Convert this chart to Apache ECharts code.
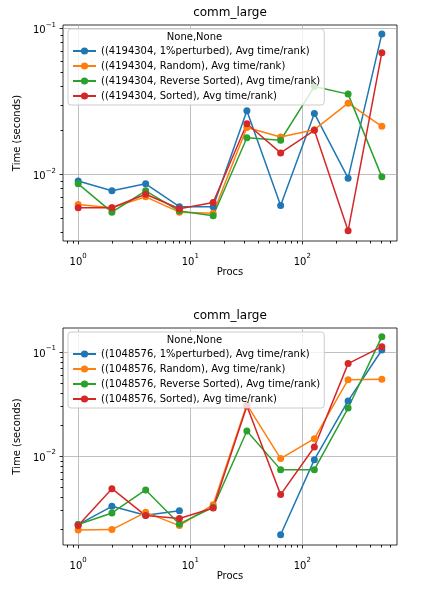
<!DOCTYPE html>
<html>
<head>
<meta charset="utf-8">
<script src="https://cdn.jsdelivr.net/npm/echarts@6/dist/echarts.min.js"></script>
<style>
html,body{margin:0;padding:0;background:#fff;}
#chart{width:442px;height:592px;}
</style>
</head>
<body>
<div id="chart"></div>
<script>
// ---------- data ----------
const procs = [1, 2, 4, 8, 16, 32, 64, 128, 256, 512];

const topSize = '4194304';
const topPerturbed = [0.0090, 0.0077, 0.0086, 0.0060, 0.0060, 0.0272, 0.0061, 0.0261, 0.0094, 0.0915];
const topRandom    = [0.0062, 0.0059, 0.0070, 0.0055, 0.0054, 0.0209, 0.0180, 0.0202, 0.0307, 0.0213];
const topReverse   = [0.0086, 0.0055, 0.0077, 0.0056, 0.0052, 0.0178, 0.0171, 0.0399, 0.0354, 0.0096];
const topSorted    = [0.0059, 0.0059, 0.0073, 0.0058, 0.0064, 0.0222, 0.0140, 0.0200, 0.0041, 0.0680];

const botSize = '1048576';
const botPerturbed = [0.00219, 0.00328, 0.00269, 0.00298, null, null, 0.00175, 0.00922, 0.0338, 0.1045];
const botRandom    = [0.00194, 0.00196, 0.00287, 0.00214, 0.00340, 0.0312, 0.00943, 0.01468, 0.0542, 0.0546];
const botReverse   = [0.00219, 0.00283, 0.00471, 0.00222, 0.00321, 0.0174, 0.00739, 0.00739, 0.0289, 0.1404];
const botSorted    = [0.00214, 0.00485, 0.00267, 0.00250, 0.00316, 0.0303, 0.00425, 0.0122, 0.0773, 0.1125];

const kinds = ['1%perturbed', 'Random', 'Reverse Sorted', 'Sorted'];
const colors = ['#1f77b4', '#ff7f0e', '#2ca02c', '#d62728'];

const xMajor = [1, 10, 100];
const yMajor = [0.01, 0.1];
const xMinor = [0.8, 0.9, 2, 3, 4, 5, 6, 7, 8, 9, 20, 30, 40, 50, 60, 70, 80, 90, 200, 300, 400, 500, 600];
const yMinor = [0.002, 0.003, 0.004, 0.005, 0.006, 0.007, 0.008, 0.009, 0.02, 0.03, 0.04, 0.05, 0.06, 0.07, 0.08, 0.09];

const chartTitle = 'comm_large';
const legendTitle = 'None,None';
const xName = 'Procs';
const yName = 'Time (seconds)';

// ---------- option building ----------
const FONT = 'DejaVu Sans';
const xRange = [0.732, 699];
const yRanges = [[0.00349, 0.1053], [0.001393, 0.170]];
const grids = [
  {left: 63, top: 25, width: 334, height: 216},
  {left: 63, top: 328, width: 334, height: 217}
];

function supFmt(v) {
  const e = Math.round(Math.log10(v));
  const es = e < 0 ? '\u2212' + Math.abs(e) : String(e);
  return '{b|10}{s|' + es + '}';
}
const richSup = {
  b: {fontFamily: FONT, fontSize: 10, color: '#000', lineHeight: 14, verticalAlign: 'bottom'},
  s: {fontFamily: FONT, fontSize: 7, color: '#000', lineHeight: 14, verticalAlign: 'top'}
};

function minorTickRenderer(dir) {
  return function (params, api) {
    const p = api.coord([api.value(0), api.value(1)]);
    let shape;
    if (dir === 'x') {
      const x = Math.round(p[0]) + 0.5;
      shape = {x1: x, y1: p[1], x2: x, y2: p[1] + 2.5};
    } else {
      const y = Math.round(p[1]) + 0.5;
      shape = {x1: p[0] - 2.5, y1: y, x2: p[0], y2: y};
    }
    return {type: 'line', shape: shape, style: {stroke: '#000', lineWidth: 0.9}, silent: true};
  };
}

const xAxes = [], yAxes = [], series = [], legends = [], titles = [];
const sets = [
  {size: topSize, vals: [topPerturbed, topRandom, topReverse, topSorted]},
  {size: botSize, vals: [botPerturbed, botRandom, botReverse, botSorted]}
];

sets.forEach((set, gi) => {
  const g = grids[gi];
  xAxes.push({
    type: 'log', logBase: 10, gridIndex: gi, position: 'bottom', min: xRange[0], max: xRange[1],
    name: xName, nameLocation: 'middle', nameGap: 23,
    nameTextStyle: {fontFamily: FONT, fontSize: 10, color: '#000'},
    axisLine: {show: false},
    axisTick: {show: true, length: 3.5, inside: false, customValues: xMajor, lineStyle: {color: '#000', width: 0.8}},
    axisLabel: {show: true, margin: 12, customValues: xMajor, formatter: supFmt, rich: richSup},
    splitLine: {show: true, lineStyle: {color: '#b0b0b0', width: 0.8}},
    minorTick: {show: false}
  });
  yAxes.push({
    type: 'log', logBase: 10, gridIndex: gi, position: 'left', min: yRanges[gi][0], max: yRanges[gi][1],
    name: yName, nameLocation: 'middle', nameGap: 31, nameRotate: 90,
    nameTextStyle: {fontFamily: FONT, fontSize: 10, color: '#000'},
    axisLine: {show: false},
    axisTick: {show: true, length: 3.5, customValues: yMajor, lineStyle: {color: '#000', width: 0.8}},
    axisLabel: {show: true, margin: 7, customValues: yMajor, formatter: supFmt, rich: richSup},
    splitLine: {show: true, lineStyle: {color: '#b0b0b0', width: 0.8}}
  });
  // minor ticks drawn through the axes' own scales
  series.push({
    type: 'custom', name: 'xminor' + gi, xAxisIndex: gi, yAxisIndex: gi,
    data: xMinor.map(v => [v, yRanges[gi][0]]),
    renderItem: minorTickRenderer('x'), clip: false, silent: true, z: 5
  });
  series.push({
    type: 'custom', name: 'yminor' + gi, xAxisIndex: gi, yAxisIndex: gi,
    data: yMinor.filter(v => v > yRanges[gi][0] && v < yRanges[gi][1]).map(v => [xRange[0], v]),
    renderItem: minorTickRenderer('y'), clip: false, silent: true, z: 5
  });
  const names = [];
  set.vals.forEach((vals, k) => {
    const name = '((' + set.size + ', ' + kinds[k] + '), Avg time/rank)';
    names.push(name);
    series.push({
      type: 'line', name: name,
      xAxisIndex: gi, yAxisIndex: gi,
      data: procs.map((p, i) => [p, vals[i]]),
      symbol: 'circle', symbolSize: 7, showSymbol: true,
      connectNulls: false,
      color: colors[k],
      lineStyle: {width: 1.5, color: colors[k]},
      itemStyle: {color: colors[k]},
      emphasis: {disabled: true},
      animation: false
    });
  });
  legends.push({
    data: names, orient: 'vertical',
    left: g.left + 5, top: g.top + 4,
    padding: [17, 4, 4, 4],
    itemWidth: 23, itemHeight: 9, itemGap: 5,
    backgroundColor: 'rgba(255,255,255,0.8)',
    borderColor: '#cccccc', borderWidth: 1, borderRadius: 3,
    textStyle: {fontFamily: FONT, fontSize: 10, color: '#000'},
    selectedMode: false
  });
  titles.push({
    text: chartTitle, left: g.left + g.width / 2, top: g.top - 18, textAlign: 'center', padding: 0,
    textStyle: {fontFamily: FONT, fontSize: 12, fontWeight: 'normal', color: '#000'}
  });
  titles.push({
    text: legendTitle, left: g.left + 131.5, top: g.top + 7, textAlign: 'center', padding: 0,
    textStyle: {fontFamily: FONT, fontSize: 10, fontWeight: 'normal', color: '#000'}
  });
});

const option = {
  animation: false,
  backgroundColor: '#fff',
  tooltip: {show: false},
  title: titles,
  legend: legends,
  grid: grids.map(g => Object.assign({show: true, borderColor: '#000', borderWidth: 0.8, backgroundColor: 'transparent', containLabel: false}, g)),
  xAxis: xAxes,
  yAxis: yAxes,
  series: series
};

const chart = echarts.init(document.getElementById('chart'), null, {renderer: 'canvas'});
chart.setOption(option);
</script>
</body>
</html>
